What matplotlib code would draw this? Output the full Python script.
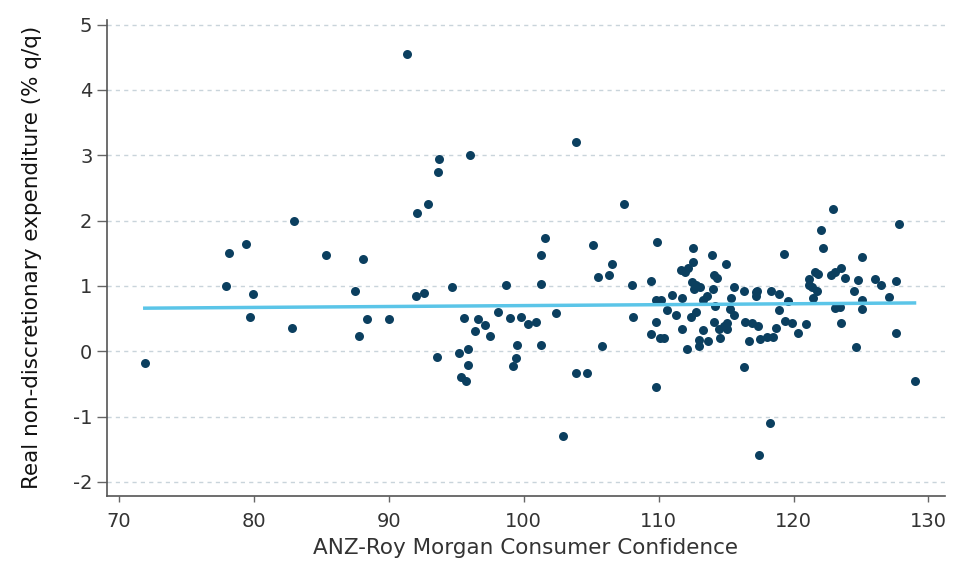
import numpy as np
import matplotlib
matplotlib.use("Agg")
import matplotlib.pyplot as plt

plt.rcParams["axes.unicode_minus"] = False

confidence = [
    91.33, 93.7, 96.02, 93.67, 92.9, 92.1, 82.95, 79.4, 78.18, 85.35, 88.06,
    77.9, 79.96, 79.7, 82.8, 71.9, 87.5, 88.4, 87.8, 89.98, 92.0, 92.6, 94.7,
    98.7, 93.55, 95.55, 96.6, 97.13, 96.4, 97.5, 98.1, 98.96, 95.2, 95.9,
    95.87, 95.33, 95.7, 99.5, 99.4, 99.17, 99.8,
    103.85, 107.45, 101.6, 101.3, 101.3, 105.1, 106.56, 105.5, 106.3, 108.0,
    109.4, 109.85, 109.8, 100.3, 100.9, 102.4, 108.1, 109.8,
    101.3, 105.8, 103.85, 104.7, 102.9, 109.46, 109.8, 110.1,
    112.57, 112.55, 111.66, 111.98, 112.2, 113.96, 114.97, 114.1, 114.35,
    112.5, 112.8, 113.1, 112.6, 114.05, 115.56, 116.3, 117.2, 117.3, 117.2,
    118.3, 118.9, 119.6, 119.3, 122.9, 122.0, 122.2, 125.1, 127.8,
    121.6, 121.8, 121.15, 121.15, 121.4, 121.75, 121.45, 122.8, 123.1, 123.5,
    123.8, 124.8, 124.5, 125.1, 126.05, 126.5, 127.6, 127.05, 123.1, 123.45,
    125.1, 110.2, 111.0, 111.7, 113.3, 113.6, 115.4,
    110.4, 110.6, 111.3, 111.7, 112.1, 112.4, 112.8, 112.97, 113.0, 113.3,
    113.66, 114.1, 114.2, 114.5, 114.55, 114.85, 115.1, 115.1, 115.3, 115.6,
    116.3, 116.4, 116.7, 116.9, 117.4, 117.45, 118.26, 117.55, 118.0, 118.45,
    118.7, 118.9, 119.4, 119.9, 120.3, 120.9, 123.5, 124.6, 127.6, 128.97,
]
expenditure = [
    4.55, 2.95, 3.0, 2.75, 2.26, 2.12, 1.99, 1.64, 1.51, 1.48, 1.42,
    1.0, 0.88, 0.53, 0.36, -0.18, 0.92, 0.49, 0.24, 0.50, 0.85, 0.89, 0.99,
    1.02, -0.08, 0.51, 0.49, 0.40, 0.31, 0.24, 0.60, 0.51, -0.02, 0.03,
    -0.21, -0.40, -0.46, 0.09, -0.11, -0.23, 0.53,
    3.20, 2.26, 1.73, 1.47, 1.03, 1.63, 1.33, 1.13, 1.16, 1.01,
    1.08, 1.67, 0.78, 0.42, 0.45, 0.59, 0.52, 0.45,
    0.09, 0.08, -0.33, -0.33, -1.30, 0.26, -0.54, 0.21,
    1.58, 1.36, 1.24, 1.22, 1.27, 1.47, 1.34, 1.16, 1.12,
    1.06, 1.01, 0.99, 0.96, 0.96, 0.99, 0.93, 0.90, 0.92, 0.85,
    0.92, 0.87, 0.77, 1.49, 2.18, 1.85, 1.58, 1.45, 1.95,
    1.21, 1.18, 1.11, 1.01, 0.99, 0.93, 0.81, 1.17, 1.22, 1.28,
    1.12, 1.09, 0.93, 0.78, 1.11, 1.02, 1.08, 0.83, 0.66, 0.68,
    0.64, 0.79, 0.86, 0.81, 0.79, 0.84, 0.81,
    0.20, 0.63, 0.56, 0.34, 0.04, 0.53, 0.60, 0.17, 0.08, 0.33,
    0.15, 0.45, 0.70, 0.34, 0.21, 0.39, 0.44, 0.34, 0.64, 0.56,
    -0.24, 0.45, 0.16, 0.44, 0.38, -1.58, -1.09, 0.19, 0.22, 0.22,
    0.35, 0.63, 0.46, 0.43, 0.28, 0.42, 0.44, 0.07, 0.28, -0.46,
]
# fitted trend line as drawn in the source chart (endpoints)
trend_x = [71.9, 128.97]
trend_y = [0.66, 0.74]

x_ticks = [70, 80, 90, 100, 110, 120, 130]
y_ticks = [-2, -1, 0, 1, 2, 3, 4, 5]
x_label = "ANZ-Roy Morgan Consumer Confidence"
y_label = "Real non-discretionary expenditure (% q/q)"

fig = plt.figure(figsize=(9.58, 5.63), dpi=100)
ax = fig.add_axes([0.1117, 0.1195, 0.8743, 0.845])

ax.scatter(confidence, expenditure, s=42, color="#0b3f5f", zorder=3, linewidths=0)
ax.plot(trend_x, trend_y, color="#5bc5e8", lw=2.5, zorder=4)

ax.set_xlim(69.1, 131.2)
ax.set_ylim(-2.21, 5.07)
ax.set_xticks(x_ticks)
ax.set_yticks(y_ticks)
ax.grid(axis="y", color="#c9d4db", linestyle=(0, (3, 3)), lw=1)
ax.set_axisbelow(True)
for s in ["top", "right"]:
    ax.spines[s].set_visible(False)
for s in ["left", "bottom"]:
    ax.spines[s].set_color("#555555")
    ax.spines[s].set_linewidth(1.2)
ax.tick_params(axis="both", colors="#666666", labelcolor="#333333",
               labelsize=14, width=1)
ax.tick_params(axis="x", length=4.5, pad=7)
ax.tick_params(axis="y", length=7.5, pad=3)
ax.set_xlabel(x_label, fontsize=15.5, color="#333333", labelpad=5)
ax.set_ylabel(y_label, fontsize=15.5, color="#111111", labelpad=22)

fig.savefig("out.png", dpi=100)
